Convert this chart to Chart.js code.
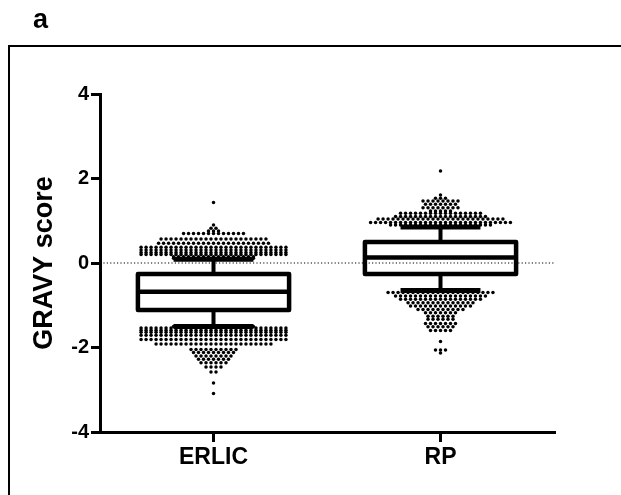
<!DOCTYPE html>
<html>
<head>
<meta charset="utf-8">
<script src="https://cdn.jsdelivr.net/npm/chart.js@4.4.1/dist/chart.umd.min.js"></script>
<style>
  html, body { margin: 0; padding: 0; background: #fff; overflow: hidden; }
  canvas { display: block; }
</style>
</head>
<body>
<canvas id="chart" width="621" height="495"></canvas>
<script>
// GRAVY score by fractionation method
const groups = ['ERLIC', 'RP'];

// box and whiskers (whiskers = 10th / 90th percentile)
const whiskerLow = [-1.50, -0.65];
const q1 = [-1.11, -0.26];
const median = [-0.68, 0.13];
const q3 = [-0.26, 0.50];
const whiskerHigh = [0.09, 0.85];

// points beyond the whiskers, binned in rows: row value and number of dots
const erlicRowY = [1.43, 0.90, 0.82, 0.76, 0.70, 0.57, 0.47, 0.37, 0.31, 0.25, 0.20, 0.15, 0.11,
  -1.50, -1.54, -1.59, -1.64, -1.71, -1.81, -1.92, -2.05, -2.12, -2.20, -2.28, -2.36, -2.46, -2.58, -2.84, -3.09];
const erlicRowCount = [1, 1, 2, 3, 13, 22, 23, 30, 30, 30, 30, 17, 17,
  17, 30, 30, 30, 30, 30, 24, 10, 9, 8, 7, 6, 4, 2, 1, 1];
const rpRowY = [2.18, 1.61, 1.53, 1.47, 1.39, 1.31, 1.23, 1.18, 1.10, 1.04, 0.96, 0.90, 0.86,
  -0.66, -0.70, -0.78, -0.86, -0.94, -1.02, -1.10, -1.18, -1.26, -1.33, -1.43, -1.51, -1.60, -1.86, -2.06, -2.13];
const rpRowCount = [1, 1, 3, 8, 7, 8, 5, 17, 19, 26, 29, 21, 16,
  16, 22, 19, 17, 14, 13, 10, 7, 6, 6, 7, 6, 5, 1, 3, 1];

const FONT = "'Liberation Sans', Arial, sans-serif";
const BOX_HALF = 0.333;   // box half width, x units
const CAP_HALF = 0.176;   // whisker cap half width
const DOT_STEP = 0.022;   // spacing between dots in a row

Chart.defaults.font.family = FONT;
Chart.defaults.color = '#000';

function swarm(center, rowY, rowCount) {
  const pts = [];
  rowY.forEach((y, r) => {
    const n = rowCount[r];
    for (let k = 0; k < n; k++) pts.push({ x: center + (k - (n - 1) / 2) * DOT_STEP, y: y });
  });
  return pts;
}

function seg(points, width) {
  return {
    type: 'line', data: points, borderColor: '#000', borderWidth: width,
    pointRadius: 0, fill: false, tension: 0, showLine: true,
    borderJoinStyle: 'round', borderCapStyle: 'butt'
  };
}

const datasets = [];
groups.forEach((g, i) => {
  const c = i + 0.5;
  // box outline
  datasets.push(seg([
    { x: c, y: q1[i] }, { x: c + BOX_HALF, y: q1[i] }, { x: c + BOX_HALF, y: q3[i] },
    { x: c - BOX_HALF, y: q3[i] }, { x: c - BOX_HALF, y: q1[i] }, { x: c, y: q1[i] }
  ], 4.5));
  datasets.push(seg([{ x: c - BOX_HALF, y: median[i] }, { x: c + BOX_HALF, y: median[i] }], 4.5));
  // whiskers and caps
  datasets.push(seg([{ x: c, y: q3[i] }, { x: c, y: whiskerHigh[i] }], 4));
  datasets.push(seg([{ x: c, y: q1[i] }, { x: c, y: whiskerLow[i] }], 4));
  datasets.push(seg([{ x: c - CAP_HALF, y: whiskerHigh[i] }, { x: c + CAP_HALF, y: whiskerHigh[i] }], 5));
  datasets.push(seg([{ x: c - CAP_HALF, y: whiskerLow[i] }, { x: c + CAP_HALF, y: whiskerLow[i] }], 5));
});

// dots
datasets.push({
  data: swarm(0.5, erlicRowY, erlicRowCount),
  pointRadius: 1.75, pointBorderWidth: 0, pointBackgroundColor: '#000'
});
datasets.push({
  data: swarm(1.5, rpRowY, rpRowCount),
  pointRadius: 1.75, pointBorderWidth: 0, pointBackgroundColor: '#000'
});

// dotted zero line
datasets.push({
  type: 'line', data: [{ x: 0, y: 0 }, { x: 2, y: 0 }], borderColor: '#000', borderWidth: 1.2,
  borderDash: [1.2, 2.2], pointRadius: 0, fill: false, showLine: true
});

// panel frame and letter
const panelFrame = {
  id: 'panelFrame',
  beforeDraw(chart) {
    const ctx = chart.ctx;
    ctx.save();
    ctx.fillStyle = '#fff';
    ctx.fillRect(0, 0, chart.width, chart.height);
    ctx.strokeStyle = '#000';
    ctx.lineWidth = 2;
    ctx.strokeRect(9, 46, 700, 600);
    ctx.fillStyle = '#000';
    ctx.font = 'bold 27px ' + FONT;
    ctx.textBaseline = 'alphabetic';
    ctx.fillText('a', 33, 28);
    ctx.restore();
  }
};

new Chart(document.getElementById('chart'), {
  type: 'scatter',
  data: { datasets: datasets },
  plugins: [panelFrame],
  options: {
    responsive: false,
    animation: false,
    events: [],
    devicePixelRatio: 1,
    layout: { padding: { top: 94, right: 67, bottom: 0, left: 0 } },
    plugins: { legend: { display: false }, tooltip: { enabled: false } },
    scales: {
      x: {
        type: 'linear', min: 0, max: 2,
        afterBuildTicks: s => { s.ticks = groups.map((g, i) => ({ value: i + 0.5 })); },
        afterFit: s => { s.height = 63; },
        ticks: {
          callback: (v, i) => groups[i],
          font: { size: 23, weight: 'bold' }, color: '#000', padding: 2,
          maxRotation: 0, autoSkip: false
        },
        grid: { drawOnChartArea: false, drawTicks: true, tickLength: 10, lineWidth: 3, color: '#000' },
        border: { display: true, color: '#000', width: 3 }
      },
      y: {
        min: -4, max: 4,
        afterFit: s => { s.width = 100; },
        ticks: { stepSize: 2, font: { size: 20, weight: 'bold' }, color: '#000', padding: 2 },
        title: {
          display: true, text: 'GRAVY score', color: '#000',
          font: { size: 27, weight: 'bold' }, padding: { top: 28, bottom: 0 }
        },
        grid: { drawOnChartArea: false, drawTicks: true, tickLength: 9, lineWidth: 3, color: '#000' },
        border: { display: true, color: '#000', width: 3 }
      }
    }
  }
});
</script>
</body>
</html>
